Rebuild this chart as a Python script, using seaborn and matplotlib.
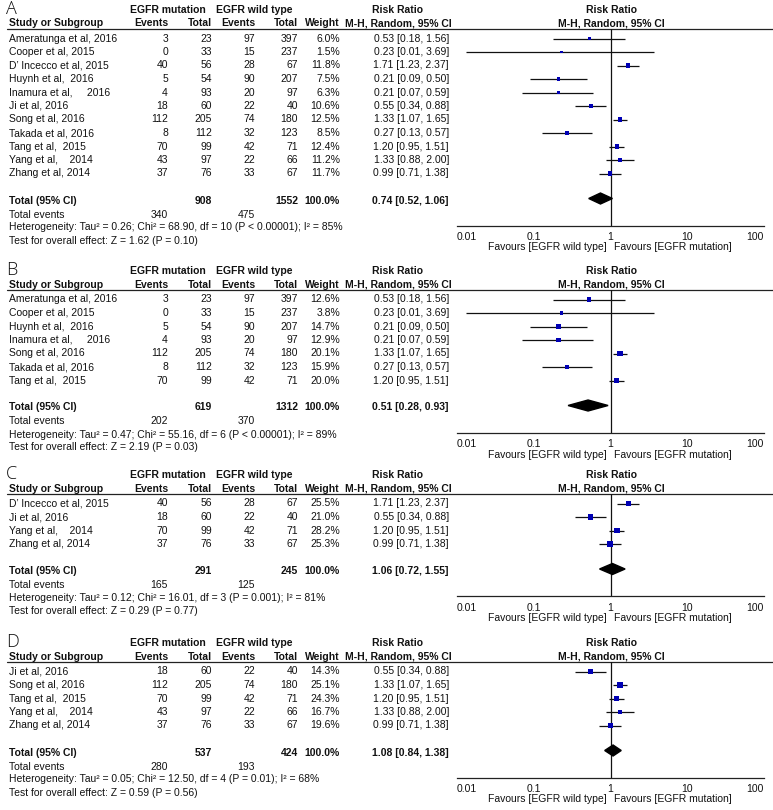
import numpy as np
import pandas as pd
import seaborn as sns
import matplotlib.pyplot as plt

sns.set_style("white")
plt.rcParams["font.family"] = ["Liberation Sans", "DejaVu Sans"]

# ---- data ----
a_study = ["Ameratunga et al, 2016", "Cooper et al, 2015", "D’ Incecco et al, 2015",
           "Huynh et al,  2016", "Inamura et al,     2016", "Ji et al, 2016",
           "Song et al, 2016", "Takada et al, 2016", "Tang et al,  2015",
           "Yang et al,    2014", "Zhang et al, 2014"]
a_ev_mut = [3, 0, 40, 5, 4, 18, 112, 8, 70, 43, 37]
a_n_mut = [23, 33, 56, 54, 93, 60, 205, 112, 99, 97, 76]
a_ev_wt = [97, 15, 28, 90, 20, 22, 74, 32, 42, 22, 33]
a_n_wt = [397, 237, 67, 207, 97, 40, 180, 123, 71, 66, 67]
a_weight = [6.0, 1.5, 11.8, 7.5, 6.3, 10.6, 12.5, 8.5, 12.4, 11.2, 11.7]
a_rr = [0.53, 0.23, 1.71, 0.21, 0.21, 0.55, 1.33, 0.27, 1.20, 1.33, 0.99]
a_lo = [0.18, 0.013, 1.23, 0.09, 0.07, 0.34, 1.07, 0.13, 0.95, 0.88, 0.71]
a_hi = [1.56, 3.69, 2.37, 0.50, 0.59, 0.88, 1.65, 0.57, 1.51, 2.00, 1.38]
a_pooled = [0.74, 0.52, 1.06]
a_het = "Heterogeneity: Tau² = 0.26; Chi² = 68.90, df = 10 (P < 0.00001); I² = 85%"
a_test = "Test for overall effect: Z = 1.62 (P = 0.10)"

b_study = ["Ameratunga et al, 2016", "Cooper et al, 2015", "Huynh et al,  2016",
           "Inamura et al,     2016", "Song et al, 2016", "Takada et al, 2016",
           "Tang et al,  2015"]
b_ev_mut = [3, 0, 5, 4, 112, 8, 70]
b_n_mut = [23, 33, 54, 93, 205, 112, 99]
b_ev_wt = [97, 15, 90, 20, 74, 32, 42]
b_n_wt = [397, 237, 207, 97, 180, 123, 71]
b_weight = [12.6, 3.8, 14.7, 12.9, 20.1, 15.9, 20.0]
b_rr = [0.53, 0.23, 0.21, 0.21, 1.33, 0.27, 1.20]
b_lo = [0.18, 0.013, 0.09, 0.07, 1.07, 0.13, 0.95]
b_hi = [1.56, 3.69, 0.50, 0.59, 1.65, 0.57, 1.51]
b_pooled = [0.51, 0.28, 0.93]
b_het = "Heterogeneity: Tau² = 0.47; Chi² = 55.16, df = 6 (P < 0.00001); I² = 89%"
b_test = "Test for overall effect: Z = 2.19 (P = 0.03)"

c_study = ["D’ Incecco et al, 2015", "Ji et al, 2016", "Yang et al,    2014",
           "Zhang et al, 2014"]
c_ev_mut = [40, 18, 70, 37]
c_n_mut = [56, 60, 99, 76]
c_ev_wt = [28, 22, 42, 33]
c_n_wt = [67, 40, 71, 67]
c_weight = [25.5, 21.0, 28.2, 25.3]
c_rr = [1.71, 0.55, 1.20, 0.99]
c_lo = [1.23, 0.34, 0.95, 0.71]
c_hi = [2.37, 0.88, 1.51, 1.38]
c_pooled = [1.06, 0.72, 1.55]
c_het = "Heterogeneity: Tau² = 0.12; Chi² = 16.01, df = 3 (P = 0.001); I² = 81%"
c_test = "Test for overall effect: Z = 0.29 (P = 0.77)"

d_study = ["Ji et al, 2016", "Song et al, 2016", "Tang et al,  2015",
           "Yang et al,    2014", "Zhang et al, 2014"]
d_ev_mut = [18, 112, 70, 43, 37]
d_n_mut = [60, 205, 99, 97, 76]
d_ev_wt = [22, 74, 42, 22, 33]
d_n_wt = [40, 180, 71, 66, 67]
d_weight = [14.3, 25.1, 24.3, 16.7, 19.6]
d_rr = [0.55, 1.33, 1.20, 1.33, 0.99]
d_lo = [0.34, 1.07, 0.95, 0.88, 0.71]
d_hi = [0.88, 1.65, 1.51, 2.00, 1.38]
d_pooled = [1.08, 0.84, 1.38]
d_het = "Heterogeneity: Tau² = 0.05; Chi² = 12.50, df = 4 (P = 0.01); I² = 68%"
d_test = "Test for overall effect: Z = 0.59 (P = 0.56)"

ticks = [0.01, 0.1, 1, 10, 100]
tick_labels = ["0.01", "0.1", "1", "10", "100"]

# ---- layout ----
W, H = 773, 810
fig = plt.figure(figsize=(W / 100, H / 100), dpi=100)
bg = fig.add_axes([0, 0, 1, 1])
bg.set_xlim(0, W)
bg.set_ylim(H, 0)
bg.axis("off")

TXT = "#111111"
FS = 7.5
STEP = 13.5
PX0, PX1 = 457, 764  # plot x extent (0.01 .. 100)


def t(x, y, s, ha="left", bold=False, size=FS, **kw):
    bg.text(x, y, s, ha=ha, va="center", fontsize=size, color=TXT,
            fontweight="bold" if bold else "normal", **kw)


def panel(letter, line_y, study, ev1, n1, ev2, n2, wt, rr, lo, hi, pooled, het, test):
    df = pd.DataFrame(dict(study=study, ev1=ev1, n1=n1, ev2=ev2, n2=n2,
                           wt=wt, rr=rr, lo=lo, hi=hi))
    df["y"] = line_y + 9.5 + np.arange(len(df)) * STEP
    total_y = df["y"].iloc[-1] + 2 * STEP
    axis_y = total_y + 25

    # headers
    h1, h2 = line_y - 19, line_y - 5.5
    bg.text(6, h1 - 1, letter, ha="left", va="center", fontsize=13,
            family=["Open Sans", "DejaVu Sans"], fontweight="light", color=TXT)
    t(168, h1, "EGFR mutation", ha="center", bold=True)
    t(254, h1, "EGFR wild type", ha="center", bold=True)
    t(397, h1, "Risk Ratio", ha="center", bold=True)
    t(611, h1, "Risk Ratio", ha="center", bold=True)
    t(9, h2, "Study or Subgroup", bold=True)
    for x, s in [(168, "Events"), (212, "Total"), (255, "Events"),
                 (298, "Total"), (340, "Weight")]:
        t(x, h2, s, ha="right", bold=True)
    t(398, h2, "M-H, Random, 95% CI", ha="center", bold=True)
    t(611, h2, "M-H, Random, 95% CI", ha="center", bold=True)
    bg.plot([7, W], [line_y, line_y], color="#222222", lw=0.9)

    # study rows
    for _, r in df.iterrows():
        t(9, r.y, r.study)
        t(168, r.y, f"{r.ev1:.0f}", ha="right")
        t(212, r.y, f"{r.n1:.0f}", ha="right")
        t(255, r.y, f"{r.ev2:.0f}", ha="right")
        t(298, r.y, f"{r.n2:.0f}", ha="right")
        t(340, r.y, f"{r.wt:.1f}%", ha="right")
        t(449, r.y, f"{r.rr:.2f} [{r.lo:.2f}, {r.hi:.2f}]", ha="right")

    # totals
    t(9, total_y, "Total (95% CI)", bold=True)
    t(212, total_y, f"{df.n1.sum()}", ha="right", bold=True)
    t(298, total_y, f"{df.n2.sum()}", ha="right", bold=True)
    t(340, total_y, "100.0%", ha="right", bold=True)
    t(449, total_y, f"{pooled[0]:.2f} [{pooled[1]:.2f}, {pooled[2]:.2f}]",
      ha="right", bold=True)
    t(9, total_y + 14, "Total events")
    t(168, total_y + 14, f"{df.ev1.sum()}", ha="right")
    t(255, total_y + 14, f"{df.ev2.sum()}", ha="right")
    t(9, total_y + 27, het)
    t(9, total_y + 40, test)

    # forest plot
    ax = fig.add_axes([PX0 / W, 1 - axis_y / H, (PX1 - PX0) / W, (axis_y - line_y) / H])
    ax.set_xscale("log")
    ax.set_xlim(0.01, 100)
    ax.set_ylim(axis_y, line_y)
    ax.patch.set_alpha(0)
    ax.axvline(1, color="#111111", lw=0.9, zorder=1)
    ax.hlines(df["y"], df["lo"], df["hi"], color="#111111", lw=0.9, zorder=2)
    sizes = ((2.6 + 0.12 * df["wt"]) * 0.72) ** 2
    sns.scatterplot(data=df, x="rr", y="y", s=sizes, marker="s", color="#0000b4",
                    linewidth=0, ax=ax, legend=False, zorder=3)
    est, lo_p, hi_p = pooled
    ax.fill([lo_p, est, hi_p, est], [total_y - 2, total_y - 7.5, total_y - 2, total_y + 3.5],
            color="black", zorder=3)
    for side in ["top", "left", "right"]:
        ax.spines[side].set_visible(False)
    ax.spines["bottom"].set_color("#222222")
    ax.spines["bottom"].set_linewidth(0.9)
    ax.set_xticks(ticks)
    ax.set_xticklabels(tick_labels)
    labs = ax.get_xticklabels()
    labs[0].set_ha("left")
    labs[-1].set_ha("right")
    ax.minorticks_off()
    ax.tick_params(axis="x", direction="inout", length=8, width=0.9,
                   labelsize=FS, pad=1, colors="#222222", labelcolor=TXT)
    ax.set_yticks([])
    ax.set_xlabel("")
    ax.set_ylabel("")
    t(607, axis_y + 22, "Favours [EGFR wild type]", ha="right")
    t(614, axis_y + 22, "Favours [EGFR mutation]", ha="left")


panel("A", 29, a_study, a_ev_mut, a_n_mut, a_ev_wt, a_n_wt, a_weight,
      a_rr, a_lo, a_hi, a_pooled, a_het, a_test)
panel("B", 290, b_study, b_ev_mut, b_n_mut, b_ev_wt, b_n_wt, b_weight,
      b_rr, b_lo, b_hi, b_pooled, b_het, b_test)
panel("C", 494, c_study, c_ev_mut, c_n_mut, c_ev_wt, c_n_wt, c_weight,
      c_rr, c_lo, c_hi, c_pooled, c_het, c_test)
panel("D", 662, d_study, d_ev_mut, d_n_mut, d_ev_wt, d_n_wt, d_weight,
      d_rr, d_lo, d_hi, d_pooled, d_het, d_test)

fig.savefig("out.png", dpi=100, facecolor="white")
